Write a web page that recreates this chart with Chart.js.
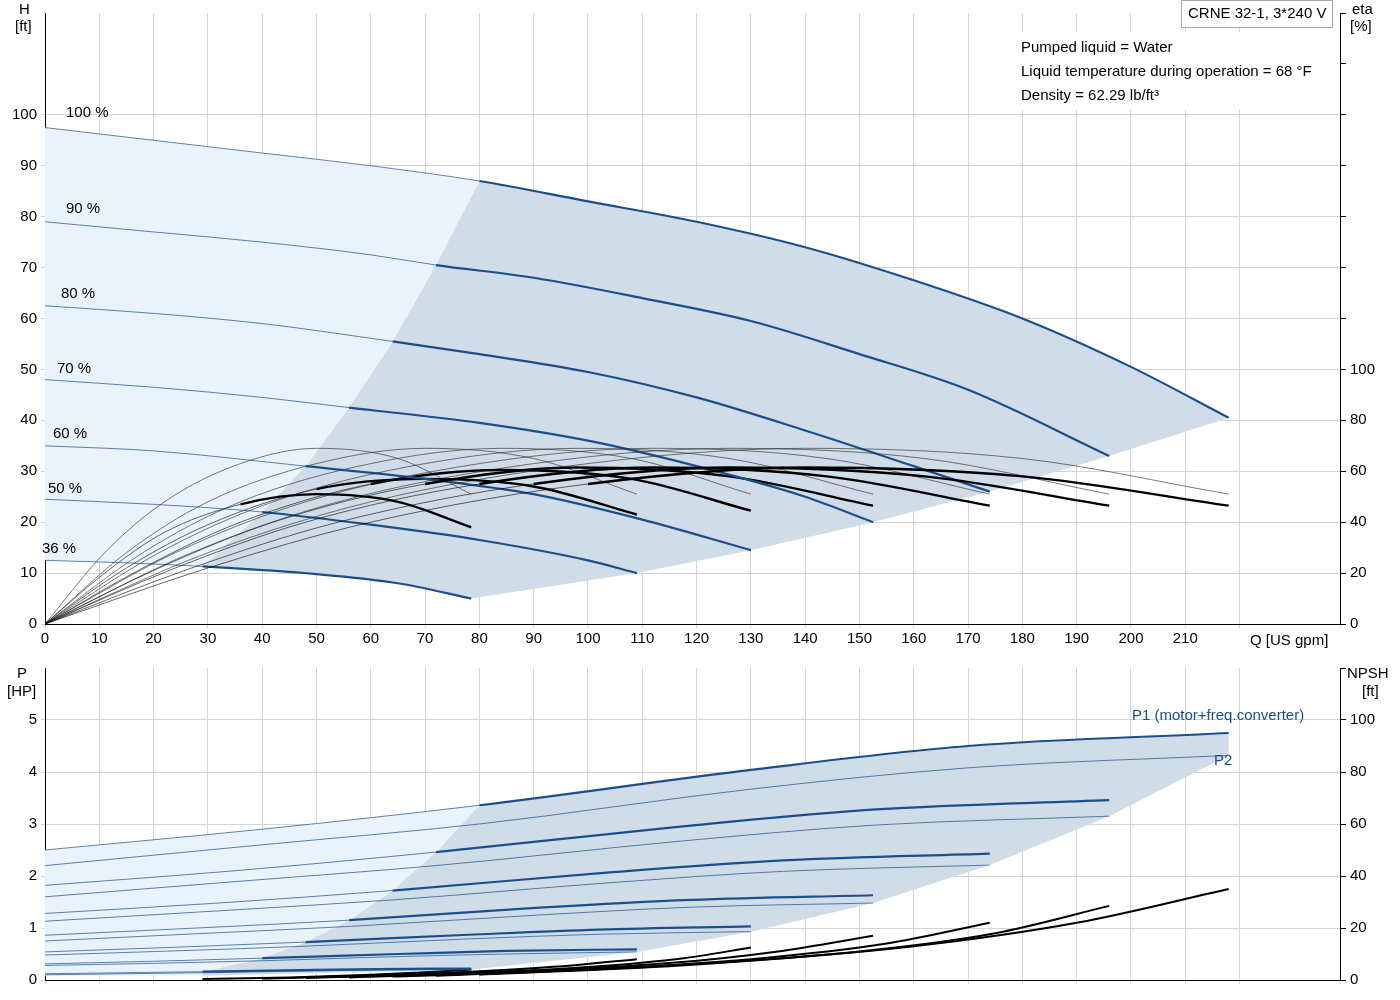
<!DOCTYPE html>
<html><head><meta charset="utf-8">
<script src="https://cdn.jsdelivr.net/npm/chart.js@4/dist/chart.umd.min.js"></script>
<style>
body{margin:0;background:#fff;font-family:"Liberation Sans",Arial,sans-serif;}
#c1{position:absolute;left:0;top:0;}
#c2{position:absolute;left:0;top:655px;}
.t{position:absolute;font-size:15px;color:#000;white-space:nowrap;line-height:17px;}
.b{color:#1a4f8c;}
</style></head><body>
<canvas id="c1" width="1400" height="652"></canvas>
<canvas id="c2" width="1400" height="345"></canvas>
<div class="t" style="left:19px;top:0">H</div><div class="t" style="left:15px;top:17px">[ft]</div>
<div class="t" style="left:1352px;top:0">eta</div><div class="t" style="left:1350px;top:17px">[%]</div>
<div class="t" style="left:1181px;top:0;border:1px solid #aaa;background:#fff;padding:3px 6px 6px 6px;">CRNE 32-1, 3*240 V</div>
<div class="t" style="left:1015px;top:32px;background:#fff;padding:3px 6px;line-height:24px;width:313px">Pumped liquid = Water<br>Liquid temperature during operation = 68 °F<br>Density = 62.29 lb/ft³</div>
<div class="t" style="left:66px;top:103px">100 %</div>
<div class="t" style="left:66px;top:199px">90 %</div>
<div class="t" style="left:61px;top:284px">80 %</div>
<div class="t" style="left:57px;top:359px">70 %</div>
<div class="t" style="left:53px;top:424px">60 %</div>
<div class="t" style="left:48px;top:479px">50 %</div>
<div class="t" style="left:42px;top:539px">36 %</div>
<div class="t" style="left:1250px;top:631px">Q [US gpm]</div>
<div class="t" style="left:17px;top:664px">P</div><div class="t" style="left:7px;top:682px">[HP]</div>
<div class="t" style="left:1347px;top:664px">NPSH</div><div class="t" style="left:1362px;top:682px">[ft]</div>
<div class="t b" style="left:1132px;top:706px">P1 (motor+freq.converter)</div>
<div class="t b" style="left:1214px;top:751px">P2</div>
<script>
// ---- Data ----
const speeds = ["100 %","90 %","80 %","70 %","60 %","50 %","36 %"];
const thickStartQ = [80,72,64,56,48,40,29];
// Head curves (Q, H)
const hQ100=[0,20,40,60,80,100,120,140,160,180,200,218], hH100=[97.5,95,92.5,90,87,83,79,74,67.5,60,50.5,40.5];
const hQ90=[0,20,40,60,72,90,110,130,150,170,196], hH90=[79,77,75,72.5,70.5,68,64,59.5,53,46,33];
const hQ80=[0,20,40,64,80,100,120,140,160,174], hH80=[62.5,61,59,55.5,53,49.5,44.5,38,31,26];
const hQ70=[0,20,40,56,80,100,120,140,152.5], hH70=[48,46.5,44.5,42.5,39.5,36,31,25,20];
const hQ60=[0,20,48,70,90,110,130], hH60=[35,34,31,28.5,25.5,20.5,14.5];
const hQ50=[0,20,40,60,80,100,109], hH50=[24.5,23.5,22,19.5,16.5,12.5,10];
const hQ36=[0,15,29,50,65,78.5], hH36=[12.5,12,11.3,9.8,8,5];
// Efficiency curves, Q per speed
const eQ100=[0,30,60,100,140,180,218];
const eQ90=[0,27,54,90,126,162,196];
const eQ80=[0,24,48,80,112,144,174];
const eQ70=[0,21,42,70,98,126,152.5];
const eQ60=[0,18,36,60,84,108,130];
const eQ50=[0,15,30,50,70,90,109];
const eQ36=[0,11,22,36,50,65,78.5];
const etaThin=[0,28,48,63,69,65,51];
const etaTot=[0,22,40,55,61.5,58,46.5];
const etaTot60=[0,22,40,55,60.5,57,44.5];
const etaTot50=[0,22,39,53,57,54,43];
const etaTot36=[0,20,36,47,51,48,38];
// Power curves
const pQ100=[0,40,80,130,170,218], p1_100=[2.5,2.9,3.36,4.04,4.5,4.75], p2_100=[2.2,2.6,3.0,3.67,4.08,4.32];
const pQ90=[0,36,72,117,153,196], p1_90=[1.82,2.11,2.46,2.95,3.28,3.46], p2_90=[1.6,1.9,2.2,2.67,2.98,3.15];
const pQ80=[0,32,64,104,136,174], p1_80=[1.28,1.48,1.72,2.07,2.3,2.43], p2_80=[1.13,1.33,1.54,1.87,2.09,2.21];
const pQ70=[0,28,56,91,119,152.5], p1_70=[.86,1.0,1.15,1.39,1.54,1.63], p2_70=[.75,.89,1.03,1.25,1.4,1.48];
const pQ60=[0,24,48,78,102,130], p1_60=[.54,.63,.73,.87,.97,1.03], p2_60=[.48,.56,.65,.79,.88,.93];
const pQ50=[0,20,40,65,85,109], p1_50=[.31,.36,.42,.5,.56,.59], p2_50=[.28,.32,.37,.45,.5,.54];
const pQ36=[0,14.5,29,47,61,78.5], p1_36=[.12,.14,.16,.19,.21,.22], p2_36=[.10,.12,.14,.17,.19,.2];
// NPSH curves
const nQ100=[80,120,160,190,218], n100=[2,6,13,22,35];
const nQ90=[72,110,150,175,196], n90=[1.6,5,11,18,28.5];
const nQ80=[64,100,130,155,174], n80=[1.3,4,8,14,22];
const nQ70=[56,85,115,135,152.5], n70=[1,3,6.5,11,17];
const nQ60=[48,75,100,118,130], n60=[.8,2.5,5,8.5,12.5];
const nQ50=[40,60,80,97,109], n50=[.6,1.6,3.4,5.6,8];
const nQ36=[29,45,60,70,78.5], n36=[.4,1,2,3,4];

// ---- Build ----
const BLUE='#1a4f8c', GRID='#d4d4d4', LIGHT='#eaf3fc', DARK='#d0dce8';
const pts=(q,v)=>q.map((x,i)=>({x,y:v[i]}));
const last=(q,v)=>({x:q[q.length-1],y:v[v.length-1]});
const at=(q,v,x)=>({x,y:v[q.indexOf(x)]});
function curve(q,v,color,start,thick,thin,axis){
  return {data:pts(q,v),showLine:true,borderColor:color,pointRadius:0,fill:false,
    cubicInterpolationMode:'monotone',yAxisID:axis,order:0,borderWidth:thick,
    segment:{borderWidth:c=>c.p0.parsed.x>=start-0.01?thick:thin}};
}
function poly(points,color,axis){
  return {data:points,showLine:true,borderWidth:0,borderColor:'rgba(0,0,0,0)',backgroundColor:color,
    pointRadius:0,fill:'shape',tension:0,yAxisID:axis,order:10};
}
const hQs=[hQ100,hQ90,hQ80,hQ70,hQ60,hQ50,hQ36], hHs=[hH100,hH90,hH80,hH70,hH60,hH50,hH36];
const eQs=[eQ100,eQ90,eQ80,eQ70,eQ60,eQ50,eQ36];
const eTots=[etaTot,etaTot,etaTot,etaTot,etaTot60,etaTot50,etaTot36];
const pQs=[pQ100,pQ90,pQ80,pQ70,pQ60,pQ50,pQ36];
const p1s=[p1_100,p1_90,p1_80,p1_70,p1_60,p1_50,p1_36], p2s=[p2_100,p2_90,p2_80,p2_70,p2_60,p2_50,p2_36];
const nQs=[nQ100,nQ90,nQ80,nQ70,nQ60,nQ50,nQ36], nVs=[n100,n90,n80,n70,n60,n50,n36];

const boundH=thickStartQ.map((s,i)=>at(hQs[i],hHs[i],s));
const endsH=hQs.map((q,i)=>last(q,hHs[i]));
const i80=hQ100.indexOf(80);
const darkTop=[...pts(hQ100,hH100).slice(i80), ...endsH.slice(1),
  ...pts(hQ36,hH36).filter(p=>p.x>=29).reverse(), ...boundH.slice().reverse()];
const lightTop=[...pts(hQ100,hH100).slice(0,i80+1), ...boundH.slice(1),
  ...pts(hQ36,hH36).filter(p=>p.x<=29).reverse()];
const topSets=[poly(lightTop,LIGHT,'y'),poly(darkTop,DARK,'y')];
speeds.forEach((s,i)=>{
  topSets.push(curve(hQs[i],hHs[i],BLUE,thickStartQ[i],2.2,0.7,'y'));
  topSets.push(curve(eQs[i],etaThin,'#222',999,0.6,0.6,'y2'));
  topSets.push(curve(eQs[i],eTots[i],'#000',thickStartQ[i],2.4,0.6,'y2'));
});
const boundP=thickStartQ.map((s,i)=>({x:s,y:p1s[i][pQs[i].indexOf(s)]}));
const endsP2=pQs.map((q,i)=>last(q,p2s[i]));
const bi80=pQ100.indexOf(80);
const darkBot=[...pts(pQ100,p1_100).slice(bi80), ...endsP2, {x:29,y:0.08}, ...boundP.slice().reverse()];
const lightBot=[...pts(pQ100,p1_100).slice(0,bi80+1), ...boundP.slice(1), {x:29,y:0.08},{x:0,y:0.08}];
const botSets=[poly(lightBot,LIGHT,'y'),poly(darkBot,DARK,'y')];
speeds.forEach((s,i)=>{
  botSets.push(curve(pQs[i],p1s[i],BLUE,thickStartQ[i],2.2,0.7,'y'));
  botSets.push(curve(pQs[i],p2s[i],BLUE,999,0.7,0.7,'y'));
  botSets.push(curve(nQs[i],nVs[i],'#000',0,2,2,'y2'));
});

const font={family:'"Liberation Sans", Arial, sans-serif',size:15};
function opts(isTop){
  return {responsive:false,animation:false,events:[],
    layout:{padding:{top:isTop?0:10,right:0,left:0,bottom:0}},
    plugins:{legend:{display:false},tooltip:{enabled:false}},
    scales:{
      x:{type:'linear',min:0,max:238.5,
        afterFit:s=>{s.height=isTop?28:20;},
        ticks:{stepSize:10,autoSkip:false,maxRotation:0,color:'#000',font,padding:2,display:isTop,
          callback:v=>v<=210?v:''},
        grid:{color:GRID,tickLength:4},border:{color:'#000'}},
      y:{position:'left',min:0,max:isTop?120:6,
        afterFit:s=>{s.width=45;},
        ticks:{stepSize:isTop?10:1,color:'#000',font,padding:4,callback:v=>v<=(isTop?100:5)?v:''},
        grid:{color:c=>c.tick.value<=(isTop?100:5)?GRID:'rgba(0,0,0,0)',tickLength:4},border:{color:'#000'}},
      y2:{position:'right',min:0,max:isTop?240:120,
        afterFit:s=>{s.width=60;},
        ticks:{stepSize:20,color:'#000',font,padding:4,callback:v=>v<=100?v:''},
        grid:{drawOnChartArea:false,tickLength:6,color:'#000'},border:{color:'#000'}}
    }};
}
new Chart(document.getElementById('c1'),{type:'scatter',data:{datasets:topSets},options:opts(true)});
new Chart(document.getElementById('c2'),{type:'scatter',data:{datasets:botSets},options:opts(false)});
</script></body></html>
